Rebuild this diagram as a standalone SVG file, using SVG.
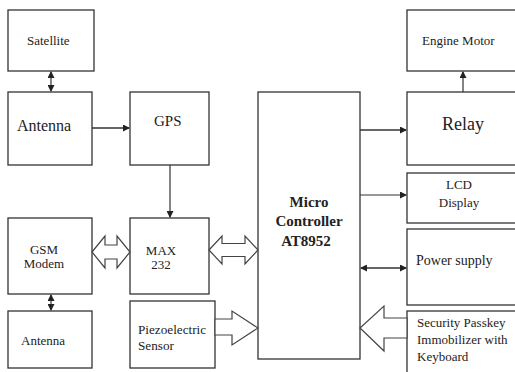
<svg xmlns="http://www.w3.org/2000/svg" width="515" height="372" viewBox="0 0 515 372">
  <defs>
    <marker id="ah" markerWidth="7" markerHeight="7" refX="6" refY="3.5" orient="auto" markerUnits="userSpaceOnUse">
      <path d="M0,0 L7,3.5 L0,7 Z" fill="#222"/>
    </marker>
    <marker id="ahs" markerWidth="7" markerHeight="7" refX="1" refY="3.5" orient="auto" markerUnits="userSpaceOnUse">
      <path d="M7,0 L0,3.5 L7,7 Z" fill="#222"/>
    </marker>
  </defs>
  <style>
    .box { fill: #fff; stroke: #333; stroke-width: 1.3; }
    text { font-family: 'Liberation Serif', 'DejaVu Serif', serif; fill: #222; }
    .b { font-weight: bold; }
    .ln { stroke: #333; stroke-width: 1.6; fill: none; }
    .thin { stroke: #333; stroke-width: 1.2; fill: none; }
    .hollow { fill: #fff; stroke: #444; stroke-width: 1.2; stroke-linejoin: miter; }
  </style>
  <rect width="515" height="372" fill="#fff"/>

  <g id="satellite">
    <rect class="box" x="8" y="10" width="86" height="61"/>
    <text x="27" y="45" font-size="13" font-family="Liberation Serif, serif">Satellite</text>
  </g>
  <g id="antenna-gps">
    <rect class="box" x="8" y="92" width="84" height="73"/>
    <text x="17" y="131" font-size="16" font-family="Liberation Serif, serif">Antenna</text>
  </g>
  <g id="gps">
    <rect class="box" x="130" y="92" width="79" height="73"/>
    <text x="154" y="126" font-size="15" font-family="Liberation Serif, serif">GPS</text>
  </g>
  <g id="microcontroller" font-family="Liberation Serif, serif">
    <rect class="box" x="258" y="92" width="102" height="267"/>
    <text class="b" x="309" y="207" font-size="15" text-anchor="middle">Micro</text>
    <text class="b" x="309" y="226" font-size="15" text-anchor="middle">Controller</text>
    <text class="b" x="306" y="246" font-size="15" text-anchor="middle">AT8952</text>
  </g>
  <g id="engine-motor">
    <rect class="box" x="407" y="10" width="112" height="61"/>
    <text x="422" y="45" font-size="13">Engine Motor</text>
  </g>
  <g id="relay">
    <rect class="box" x="407" y="92" width="112" height="73"/>
    <text x="442" y="130" font-size="18">Relay</text>
  </g>
  <g id="lcd">
    <rect class="box" x="407" y="173" width="112" height="50"/>
    <text x="459" y="189" font-size="13" text-anchor="middle">LCD</text>
    <text x="459" y="207" font-size="13" text-anchor="middle">Display</text>
  </g>
  <g id="power-supply">
    <rect class="box" x="407" y="229" width="112" height="76"/>
    <text x="416" y="265" font-size="14">Power supply</text>
  </g>
  <g id="security">
    <rect class="box" x="407" y="311" width="112" height="70"/>
    <text x="417" y="327" font-size="13">Security Passkey</text>
    <text x="417" y="344" font-size="13">Immobilizer with</text>
    <text x="417" y="361" font-size="13">Keyboard</text>
  </g>
  <g id="gsm-modem">
    <rect class="box" x="8" y="218" width="84" height="76"/>
    <text x="44" y="254" font-size="13" text-anchor="middle">GSM</text>
    <text x="44" y="268" font-size="13" text-anchor="middle">Modem</text>
  </g>
  <g id="antenna-gsm">
    <rect class="box" x="8" y="311" width="84" height="57"/>
    <text x="21" y="345" font-size="13">Antenna</text>
  </g>
  <g id="max232">
    <rect class="box" x="130" y="218" width="79" height="76"/>
    <text x="161" y="255" font-size="13" text-anchor="middle">MAX</text>
    <text x="161" y="269" font-size="13" text-anchor="middle">232</text>
  </g>
  <g id="piezo">
    <rect class="box" x="130" y="301" width="85" height="67"/>
    <text x="138" y="334" font-size="13.2">Piezoelectric</text>
    <text x="138" y="350" font-size="13.2">Sensor</text>
  </g>

  <g id="connectors">
    <line class="thin" x1="51" y1="72" x2="51" y2="91" marker-start="url(#ahs)" marker-end="url(#ah)"/>
    <line class="ln" x1="92" y1="128" x2="129" y2="128" marker-end="url(#ah)"/>
    <line class="thin" x1="170" y1="165" x2="170" y2="217" marker-end="url(#ah)"/>
    <line class="ln" x1="360" y1="130" x2="406" y2="130" marker-end="url(#ah)"/>
    <line class="thin" x1="463" y1="92" x2="463" y2="72" marker-end="url(#ah)"/>
    <line class="thin" x1="360" y1="195" x2="406" y2="195" marker-end="url(#ah)"/>
    <line class="ln" x1="361" y1="268" x2="406" y2="268" marker-start="url(#ahs)" marker-end="url(#ah)"/>
    <line class="thin" x1="51" y1="295" x2="51" y2="310" marker-start="url(#ahs)" marker-end="url(#ah)"/>
    <polygon class="hollow" points="92,252 105,236 105,245 117,245 117,236 130,252 117,268 117,259 105,259 105,268"/>
    <polygon class="hollow" points="209,250 222,236 222,243.5 245,243.5 245,236 258,250 245,264 245,256.5 222,256.5 222,264"/>
    <polygon class="hollow" points="215,319 232,319 232,311 258,328 232,345 232,335 215,335"/>
    <polygon class="hollow" points="407,318 384,318 384,306 360,328 384,351 384,338 407,338"/>
  </g>
</svg>
